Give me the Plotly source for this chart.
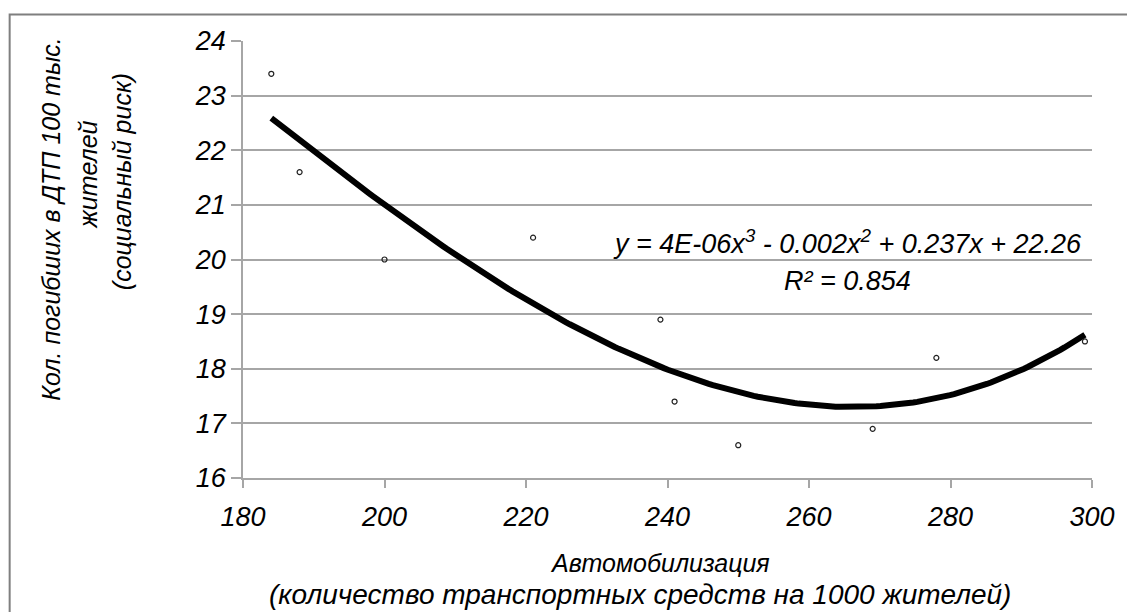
import numpy as np
import plotly.graph_objects as go

# Data
motorization = [184, 188, 200, 221, 239, 241, 250, 269, 278, 299]
social_risk = [23.4, 21.6, 20.0, 20.4, 18.9, 17.4, 16.6, 16.9, 18.2, 18.5]

x_ticks = [180, 200, 220, 240, 260, 280, 300]
y_ticks = [16, 17, 18, 19, 20, 21, 22, 23, 24]

equation_text = "y = 4E-06x<sup>3</sup> - 0.002x<sup>2</sup> + 0.237x + 22.26"
r2_text = "R² = 0.854"
y_title_lines = ["Кол. погибших в ДТП 100 тыс.", "жителей", "(социальный риск)"]
x_title_lines = ["Автомобилизация", "(количество транспортных средств на 1000 жителей)"]

# Polynomial (order 3) trendline, as in the spreadsheet chart
coef = np.polyfit(motorization, social_risk, 3)
xs = np.linspace(min(motorization), max(motorization), 200)
ys = np.polyval(coef, xs)

FONT = "Liberation Sans"
GRID = "#a6a6a6"

fig = go.Figure()
fig.add_trace(go.Scatter(x=xs, y=ys, mode="lines",
                         line=dict(color="black", width=6), hoverinfo="skip"))
fig.add_trace(go.Scatter(x=motorization, y=social_risk, mode="markers",
                         marker=dict(symbol="circle-open", size=5,
                                     color="#222222", line=dict(width=1.2))))

# Plot area in page pixels
PL, PR, PT, PB = 243, 1098, 40.5, 478
W, H = 1127, 612


def px(xp):
    return (xp - PL) / (PR - PL)


def py(yp):
    return (PB - yp) / (PB - PT)


fig.update_layout(
    width=W, height=H,
    margin=dict(l=PL, r=W - PR, t=PT, b=H - PB),
    paper_bgcolor="white", plot_bgcolor="white",
    showlegend=False,
    font=dict(family=FONT, color="black"),
    xaxis=dict(range=[180, 300], tickvals=x_ticks,
               showgrid=False, zeroline=False,
               showline=True, linecolor=GRID, linewidth=1.5,
               ticks="outside", ticklen=8, tickcolor=GRID, tickwidth=1.5,
               tickfont=dict(family=FONT, size=27, color="black", style="italic"),
               ticklabelstandoff=6),
    yaxis=dict(range=[16, 24], tickvals=y_ticks,
               showgrid=True, gridcolor=GRID, gridwidth=1.5, zeroline=False,
               showline=True, linecolor=GRID, linewidth=1.5,
               ticks="outside", ticklen=10, tickcolor=GRID, tickwidth=1.5,
               tickfont=dict(family=FONT, size=27, color="black", style="italic")),
)

# Y title lines
for txt, xp, yp in zip(y_title_lines, [50, 87, 121], [219, 174, 181]):
    fig.add_annotation(text=txt, xref="paper", yref="paper", x=px(xp), y=py(yp),
                       textangle=-90, showarrow=False,
                       font=dict(family=FONT, size=25, color="black", style="italic"),
                       xanchor="center", yanchor="middle")
# X title lines
for txt, xp, yp, fs in zip(x_title_lines, [663, 643], [563, 595], [25, 28]):
    fig.add_annotation(text=txt, xref="paper", yref="paper", x=px(xp), y=py(yp),
                       showarrow=False, font=dict(family=FONT, size=fs, color="black", style="italic"),
                       xanchor="center", yanchor="middle")
# Trendline label
eq_font = dict(family=FONT, size=27, color="black", style="italic")
fig.add_annotation(text=equation_text, xref="paper", yref="paper", x=px(852), y=py(242),
                   showarrow=False, font=eq_font, xanchor="center", yanchor="middle")
fig.add_annotation(text=r2_text, xref="paper", yref="paper", x=px(852), y=py(281),
                   showarrow=False, font=eq_font, xanchor="center", yanchor="middle")

# Outer chart border (cut off at right and bottom in the reference)
fig.add_shape(type="rect", xref="paper", yref="paper",
              x0=px(8), x1=px(1140), y0=py(625), y1=py(14),
              line=dict(color="#7f7f7f", width=2), fillcolor="rgba(0,0,0,0)", layer="below")

fig.write_html(
    "out.html",
    config={"displayModeBar": False},
    post_script="document.body.style.margin='0';document.body.style.overflow='hidden';",
)
